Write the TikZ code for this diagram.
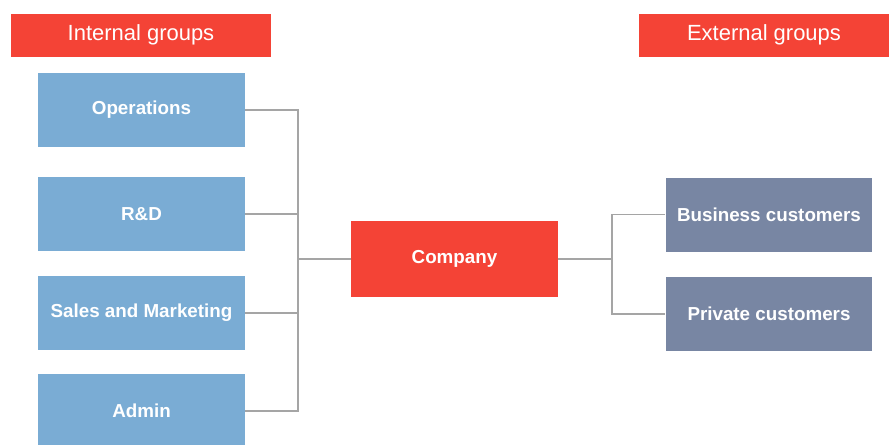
\documentclass[tikz,border=0pt]{standalone}
\usepackage{fontspec}
\setmainfont{Liberation Sans}
\usepackage{xcolor}
\usetikzlibrary{positioning}
\definecolor{grpred}{RGB}{244,67,54}
\definecolor{intblue}{RGB}{122,172,212}
\definecolor{extslate}{RGB}{120,134,163}
\definecolor{linegray}{RGB}{165,165,165}
\tikzset{
  header/.style={rectangle, fill=grpred, text=white, font=\fontsize{12.5}{14}\selectfont,
    minimum height=0.86cm, inner sep=0pt},
  unitbox/.style={rectangle, minimum width=4.14cm, minimum height=1.48cm,
    text=white, font=\fontsize{10.7}{12}\selectfont\bfseries, inner sep=0pt},
  intbox/.style={unitbox, fill=intblue},
  extbox/.style={unitbox, fill=extslate},
  hubbox/.style={unitbox, fill=grpred, minimum height=1.52cm},
  link/.style={draw=linegray, line width=0.8pt},
}
\begin{document}
\begin{tikzpicture}[x=0.02cm, y=-0.02cm]
  \clip (0,0) rectangle (889,444);
  \fill[white] (0,0) rectangle (889,444);
  % headers
  \node[header, minimum width=5.2cm] (inthead) at (141,35) {Internal groups};
  \node[header, minimum width=5.0cm] (exthead) at (764,35) {External groups};
  % internal groups
  \node[intbox] (ops) at (141.5,110) {Operations};
  \node[intbox] (rnd) at (141.5,214) {R\&D};
  \node[intbox] (sales) at (141.5,313) {Sales and Marketing};
  \node[intbox] (admin) at (141.5,411) {Admin};
  % company
  \node[hubbox] (company) at (454.5,259) {Company};
  % external groups
  \node[extbox] (biz) at (769,214.5) {Business customers};
  \node[extbox] (priv) at (769,314) {Private customers};
  % connectors
  \coordinate (hubL) at (298,259);
  \coordinate (hubR) at (612,259);
  \draw[link] (ops.east) -| (hubL) -- (company.west);
  \draw[link] (rnd.east) -| (hubL);
  \draw[link] (sales.east) -| (hubL);
  \draw[link] (admin.east) -| (hubL);
  \draw[link] (company.east) -- (hubR) |- (biz.west);
  \draw[link] (hubR) |- (priv.west);
\end{tikzpicture}
\end{document}
